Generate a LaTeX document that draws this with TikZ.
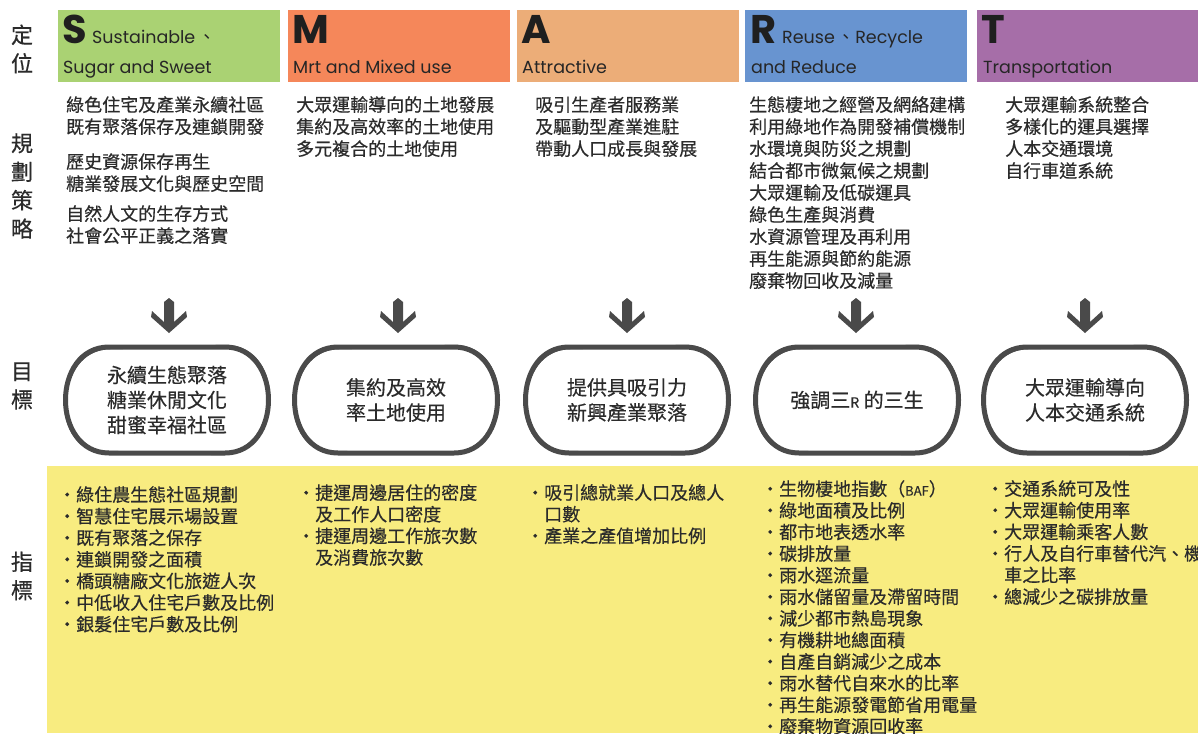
\documentclass[tikz,border=0pt]{standalone}
\usepackage{fontspec}
\setmainfont{Noto Sans CJK TC}[FakeBold=0.4]
\newfontfamily\cjk{Noto Sans CJK TC}
\newfontfamily\lat{Poppins}
\definecolor{cS}{HTML}{AAD273}
\definecolor{cM}{HTML}{F5875A}
\definecolor{cA}{HTML}{ECAD78}
\definecolor{cR}{HTML}{6894D0}
\definecolor{cT}{HTML}{A66EA8}
\definecolor{ylw}{HTML}{F8EC80}
\definecolor{ink}{HTML}{2B2B2B}
\definecolor{ring}{HTML}{4A4A4A}
\tikzset{
  hdrbox/.style={fill=#1, draw=none, minimum width=222pt, minimum height=72pt, anchor=north west, inner sep=0},
  bigletter/.style={anchor=base west, inner sep=0, font=\lat\bfseries\fontsize{40}{40}\selectfont, text=black!88},
  hdrtext/.style={anchor=base west, inner sep=0, font=\lat\fontsize{17.5}{19}\selectfont, text=black!85},
  sidelabel/.style={inner sep=0, align=center, font=\fontsize{22}{28.5}\selectfont, text=ink},
  strat/.style={anchor=north west, inner sep=0, align=left, font=\fontsize{18}{22}\selectfont, text=ink},
  ind/.style={anchor=north west, inner sep=0, align=left, font=\fontsize{18}{21.6}\selectfont, text=ink},
  goaltext/.style={inner sep=0, align=center, font=\fontsize{20}{25}\selectfont, text=ink},
  darr/.pic={\fill[ring] (0,0) -- (5,4) -- (5,24) -- (17,13) -- (18,19) -- (0,35) -- (-18,19) -- (-17,13) -- (-5,24) -- (-5,4) -- cycle;},
  ovl/.pic={
    \draw[ring, line width=5pt, line join=round]
      (-58,-53) -- (58,-53) .. controls (116,-53) and (116,53) .. (58,53)
      -- (-58,53) .. controls (-116,53) and (-116,-53) .. (-58,-53) -- cycle;
    \draw[ring, line width=2.4pt, line join=round]
      (-56,-52) -- (60,-54) .. controls (118,-52) and (115,52) .. (56,54)
      -- (-60,52) .. controls (-118,53) and (-115,-52) .. (-56,-52) -- cycle;
  }
}
\begin{document}
\begin{tikzpicture}[x=1pt,y=-1pt]
\useasboundingbox (0,0) rectangle (1198,733);
\clip (0,0) rectangle (1198,733);
\fill[white] (0,0) rectangle (1198,733);

% side labels
\node[sidelabel] (lDing) at (22,49) {定\\位};
\node[sidelabel] (lCe) at (22,186) {規\\劃\\策\\略};
\node[sidelabel] (lMu) at (22,386) {目\\標};
\node[sidelabel] (lZhi) at (22,576) {指\\標};

% header boxes
\node[hdrbox=cS] (hS) at (58,10) {};
\node[hdrbox=cM] (hM) at (288,10) {};
\node[hdrbox=cA] (hA) at (517,10) {};
\node[hdrbox=cR] (hR) at (745,10) {};
\node[hdrbox=cT] (hT) at (977,10) {};

\node[bigletter] (hSl) at (62,44) {S};
\node[hdrtext] (hSa) at (92,44) {Sustainable\,{\cjk 、}};
\node[hdrtext] (hSb) at (63,74) {Sugar and Sweet};
\node[bigletter] (hMl) at (292,44) {M};
\node[hdrtext] (hMb) at (293,74) {Mrt and Mixed use};
\node[bigletter] (hAl) at (521,44) {A};
\node[hdrtext] (hAb) at (522,74) {Attractive};
\node[bigletter] (hRl) at (750,44) {R};
\node[hdrtext] (hRa) at (782,44) {Reuse\,{\cjk 、}Recycle};
\node[hdrtext] (hRb) at (751,74) {and Reduce};
\node[bigletter] (hTl) at (981,44) {T};
\node[hdrtext] (hTb) at (983,74) {Transportation};

% strategies
\node[strat] (sS) at (66,96) {綠色住宅及產業永續社區\\既有聚落保存及連鎖開發\\[13pt]歷史資源保存再生\\糖業發展文化與歷史空間\\[8pt]自然人文的生存方式\\社會公平正義之落實};
\node[strat] (sM) at (296,96) {大眾運輸導向的土地發展\\集約及高效率的土地使用\\多元複合的土地使用};
\node[strat] (sA) at (535,96) {吸引生產者服務業\\及驅動型產業進駐\\帶動人口成長與發展};
\node[strat] (sR) at (749,96) {生態棲地之經營及網絡建構\\利用綠地作為開發補償機制\\水環境與防災之規劃\\結合都市微氣候之規劃\\大眾運輸及低碳運具\\綠色生產與消費\\水資源管理及再利用\\再生能源與節約能源\\廢棄物回收及減量};
\node[strat] (sT) at (1005,96) {大眾運輸系統整合\\多樣化的運具選擇\\人本交通環境\\自行車道系統};

% arrows
\pic (aS) at (169,298) {darr};
\pic (aM) at (398,298) {darr};
\pic (aA) at (627,298) {darr};
\pic (aR) at (856,298) {darr};
\pic (aT) at (1085,298) {darr};

% goals
\pic (oS) at (167,400) {ovl};
\pic (oM) at (396,400) {ovl};
\pic (oA) at (627,400) {ovl};
\pic (oR) at (857,400) {ovl};
\pic (oT) at (1085,400) {ovl};
\node[goaltext] (gS) at (167,400) {永續生態聚落\\糖業休閒文化\\甜蜜幸福社區};
\node[goaltext] (gM) at (396,400) {集約及高效\\率土地使用};
\node[goaltext] (gA) at (627,400) {提供具吸引力\\新興產業聚落};
\node[goaltext] (gR) at (857,400) {強調三{\fontsize{14}{14}\selectfont R} 的三生};
\node[goaltext] (gT) at (1085,400) {大眾運輸導向\\人本交通系統};

% indicators
\fill[ylw] (47,466) rectangle (1198,733);
\node[ind] (iS) at (58,486) {・綠住農生態社區規劃\\・智慧住宅展示場設置\\・既有聚落之保存\\・連鎖開發之面積\\・橋頭糖廠文化旅遊人次\\・中低收入住宅戶數及比例\\・銀髮住宅戶數及比例};
\node[ind] (iM) at (297,484) {・捷運周邊居住的密度\\　及工作人口密度\\・捷運周邊工作旅次數\\　及消費旅次數};
\node[ind] (iA) at (526,484) {・吸引總就業人口及總人\\　口數\\・產業之產值增加比例};
\node[ind] (iR) at (761,480) {・生物棲地指數（{\fontsize{13}{13}\selectfont BAF}）\\・綠地面積及比例\\・都市地表透水率\\・碳排放量\\・雨水逕流量\\・雨水儲留量及滯留時間\\・減少都市熱島現象\\・有機耕地總面積\\・自產自銷減少之成本\\・雨水替代自來水的比率\\・再生能源發電節省用電量\\・廢棄物資源回收率};
\node[ind] (iT) at (986,480) {・交通系統可及性\\・大眾運輸使用率\\・大眾運輸乘客人數\\・行人及自行車替代汽、機\\　車之比率\\・總減少之碳排放量};
\end{tikzpicture}
\end{document}
